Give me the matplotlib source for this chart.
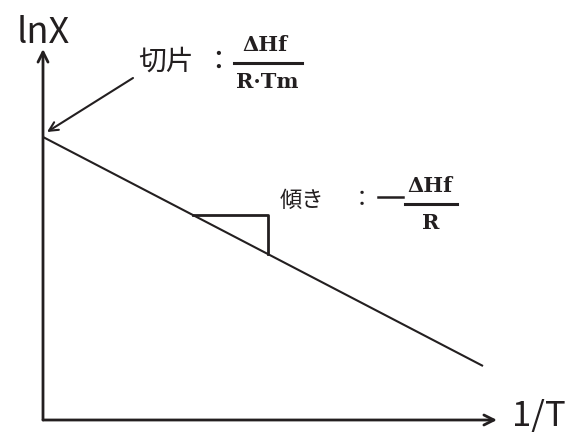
import matplotlib
matplotlib.use("Agg")
import matplotlib.pyplot as plt

# 1/T vs lnX straight line (arbitrary units)
inv_T = [0, 440]
ln_X = [283, 54]

# where the slope triangle sits along the line
tri_x = [150, 225]

axis_x_end = 454
axis_y_end = 371

ink = "#231f20"
jp = ["Noto Sans CJK JP", "DejaVu Sans"]
serif_bold = dict(family="DejaVu Serif", weight="bold", fontsize=15, color=ink)

fig = plt.figure(figsize=(5.78, 4.35), dpi=100)
ax = fig.add_axes([0, 0, 1, 1])
ax.set_xlim(-43, 535)
ax.set_ylim(-14, 421)
ax.axis("off")

# axes with open arrow heads
arrow = dict(arrowstyle="->", color=ink, lw=2, mutation_scale=18, shrinkA=0, shrinkB=0)
ax.annotate("", xy=(axis_x_end, 0), xytext=(0, 0), arrowprops=arrow)
ax.annotate("", xy=(0, axis_y_end), xytext=(0, 0), arrowprops=arrow)
ax.text(0, 378, "lnX", family=jp, fontsize=26, color=ink, ha="center", va="baseline")
ax.text(496, -13, "1/T", family=jp, fontsize=25, color=ink, ha="center", va="bottom")

# the line itself
ax.plot(inv_T, ln_X, color=ink, lw=1.5, solid_capstyle="butt")

# slope triangle under the line
slope = (ln_X[1] - ln_X[0]) / (inv_T[1] - inv_T[0])
y_top = ln_X[0] + slope * tri_x[0]
y_bot = ln_X[0] + slope * tri_x[1]
ax.plot([tri_x[0], tri_x[1], tri_x[1]], [y_top, y_top, y_bot], color=ink, lw=2)

# intercept label + arrow pointing at the y-axis
ax.annotate("", xy=(4, ln_X[0] + 5), xytext=(90, 342),
            arrowprops=dict(arrowstyle="->", color=ink, lw=1.5, mutation_scale=16,
                            shrinkA=0, shrinkB=0))
ax.text(95, 359, "切片", family=jp, fontsize=20, color=ink, ha="left", va="center")
ax.text(175, 359, "：", family=jp, fontsize=20, color=ink, ha="center", va="center")
ax.text(222, 376, "ΔHf", ha="center", va="center", **serif_bold)
ax.plot([191, 259], [357, 357], color=ink, lw=2.2)
ax.text(224, 339, "R·Tm", ha="center", va="center", **serif_bold)

# slope label
ax.text(237, 221, "傾き", family=jp, fontsize=16, color=ink, ha="left", va="center")
ax.text(319, 221, "：", family=jp, fontsize=16, color=ink, ha="center", va="center")
ax.plot([335, 360], [223, 223], color=ink, lw=1.8)
ax.text(387, 235, "ΔHf", ha="center", va="center", **serif_bold)
ax.plot([362, 414], [216, 216], color=ink, lw=2.2)
ax.text(388, 197.5, "R", ha="center", va="center", **serif_bold)

fig.savefig("out.png", dpi=100)
